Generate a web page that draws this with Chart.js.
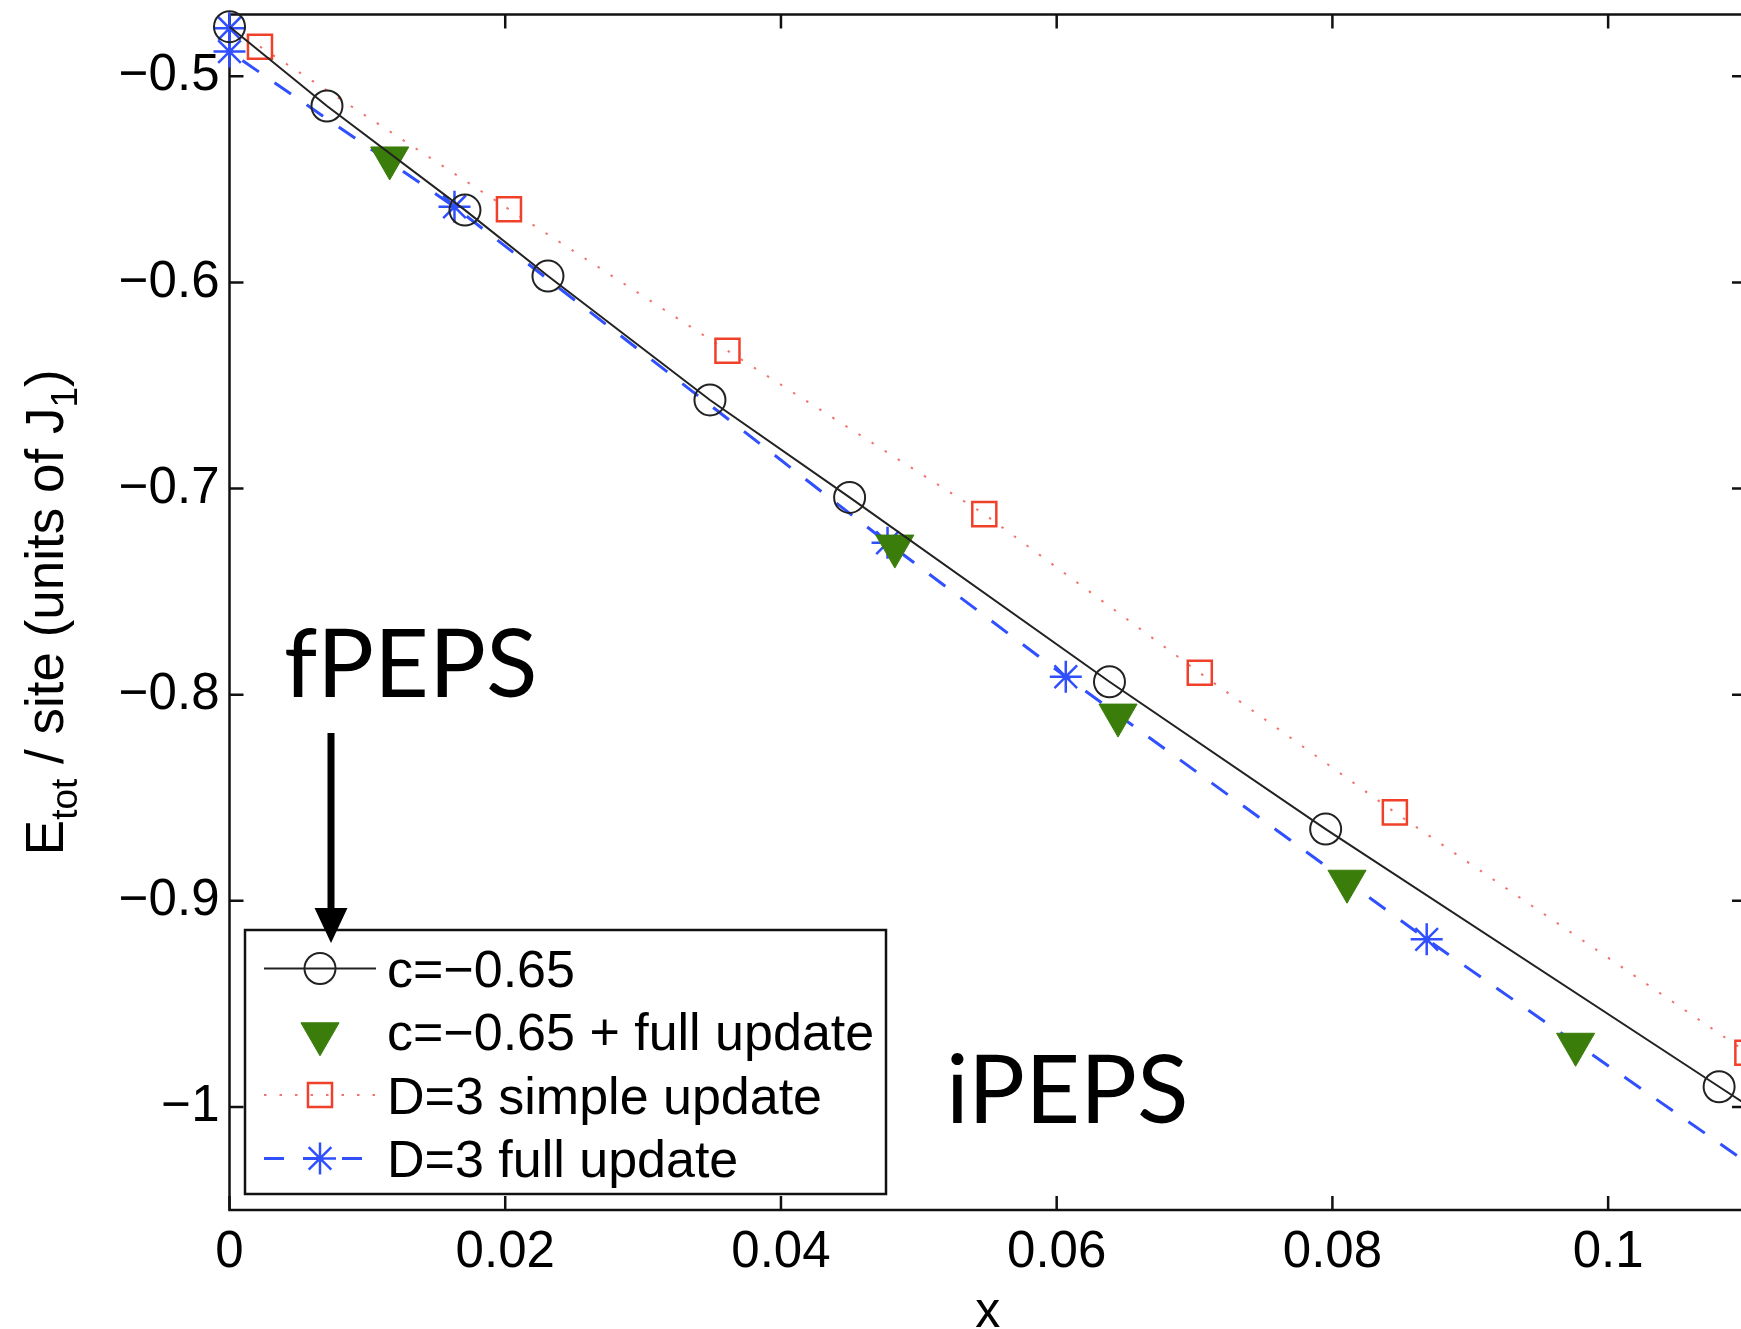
<!DOCTYPE html>
<html lang="en">
<head>
<meta charset="UTF-8">
<title>E_tot per site vs x</title>
<script src="https://cdn.jsdelivr.net/npm/chart.js"></script>
<style>
  html, body { margin: 0; padding: 0; background: #fff; overflow: hidden; }
</style>
</head>
<body>
<canvas id="energyChart" width="1760" height="1329"></canvas>
<script>
// c=-0.65 (last point lies past the right axis, only its line segment shows)
var circX = [0, 0.00707, 0.01708, 0.0231, 0.03485, 0.04498, 0.06383, 0.07951, 0.10805, 0.12];
var circY = [-0.4759, -0.5144, -0.5649, -0.5969, -0.657, -0.7043, -0.7937, -0.8652, -0.9902, -1.0425];

// c=-0.65 + full update
var triX = [0.01162, 0.04826, 0.06445, 0.08106, 0.09764];
var triY = [-0.5396, -0.7279, -0.8099, -0.8905, -0.9696];

// D=3 simple update
var sqX = [0.00221, 0.02027, 0.03612, 0.05475, 0.07038, 0.08453, 0.1101];
var sqY = [-0.4856, -0.5645, -0.6331, -0.7124, -0.7894, -0.8571, -0.9737];

// D=3 full update (last point past the right axis)
var starX = [0, 0, 0.01632, 0.04773, 0.06066, 0.08684, 0.113];
var starY = [-0.4767, -0.488, -0.5633, -0.7263, -0.7913, -0.9187, -1.0406];

var xTicks = [0, 0.02, 0.04, 0.06, 0.08, 0.1];
var yTicks = [-1, -0.9, -0.8, -0.7, -0.6, -0.5];

var seriesNames = ['c=\u22120.65', 'c=\u22120.65 + full update', 'D=3 simple update', 'D=3 full update'];

var LABEL_FONT = '"Liberation Sans", Arial, sans-serif';

function toPoints(xs, ys) {
  return xs.map(function (x, i) { return { x: x, y: ys[i] }; });
}

// frame with inward ticks on all four sides (matlab style)
var framePlugin = {
  id: 'frame',
  beforeDatasetsDraw: function (chart) {
    var ctx = chart.ctx, a = chart.chartArea;
    var xs = chart.scales.x, ys = chart.scales.y;
    var tl = 14;
    ctx.save();
    ctx.strokeStyle = '#111';
    ctx.lineWidth = 2.5;
    ctx.strokeRect(a.left, a.top, a.right - a.left, a.bottom - a.top);
    ctx.beginPath();
    xTicks.forEach(function (v) {
      var p = xs.getPixelForValue(v);
      ctx.moveTo(p, a.bottom); ctx.lineTo(p, a.bottom - tl);
      ctx.moveTo(p, a.top); ctx.lineTo(p, a.top + tl);
    });
    yTicks.forEach(function (v) {
      var p = ys.getPixelForValue(v);
      ctx.moveTo(a.left, p); ctx.lineTo(a.left + tl, p);
      ctx.moveTo(a.right, p); ctx.lineTo(a.right - tl, p);
    });
    ctx.stroke();
    ctx.restore();
  }
};

// y title with subscripts, boxed legend, annotations
var extrasPlugin = {
  id: 'extras',
  afterDraw: function (chart) {
    var ctx = chart.ctx, a = chart.chartArea;
    ctx.save();

    // y axis title
    var parts = [['E', false], ['tot', true], [' / site (units of J', false], ['1', true], [')', false]];
    var big = '53px ' + LABEL_FONT, small = '37px ' + LABEL_FONT;
    var total = 0;
    parts.forEach(function (p) {
      ctx.font = p[1] ? small : big;
      p.push(ctx.measureText(p[0]).width);
      total += p[2];
    });
    ctx.translate(63, (a.top + a.bottom) / 2);
    ctx.rotate(-Math.PI / 2);
    ctx.fillStyle = '#000';
    ctx.textBaseline = 'alphabetic';
    var tx = -total / 2;
    parts.forEach(function (p) {
      ctx.font = p[1] ? small : big;
      ctx.fillText(p[0], tx, p[1] ? 14 : 0);
      tx += p[2];
    });
    ctx.setTransform(1, 0, 0, 1, 0, 0);

    // legend box
    var bx = 245, by = 930, bw = 641, bh = 264;
    ctx.fillStyle = '#fff';
    ctx.fillRect(bx, by, bw, bh);
    ctx.strokeStyle = '#111';
    ctx.lineWidth = 2.5;
    ctx.strokeRect(bx, by, bw, bh);

    chart.data.datasets.forEach(function (ds, i) {
      var cy = 968.5 + i * 63.3;
      if (ds.showLine) {
        ctx.beginPath();
        ctx.setLineDash(ds.borderDash || []);
        ctx.strokeStyle = ds.borderColor;
        ctx.lineWidth = ds.borderWidth;
        ctx.moveTo(264, cy);
        ctx.lineTo(376, cy);
        ctx.stroke();
        ctx.setLineDash([]);
      }
      ctx.fillStyle = ds.pointBackgroundColor;
      ctx.strokeStyle = ds.pointBorderColor;
      ctx.lineWidth = ds.pointBorderWidth;
      Chart.helpers.drawPoint(ctx, {
        pointStyle: ds.pointStyle,
        radius: ds.pointRadius,
        rotation: ds.pointRotation || 0,
        borderWidth: ds.pointBorderWidth
      }, 320, ds.pointStyle === 'triangle' ? cy + 2 : cy);
      ctx.fillStyle = '#000';
      ctx.font = '52px ' + LABEL_FONT;
      ctx.fillText(seriesNames[i], 387, cy + 18.5);
    });

    // fPEPS / iPEPS labels and arrow
    ctx.fillStyle = '#000';
    ctx.font = '95px Lato, "Open Sans", sans-serif';
    ctx.fillText('fPEPS', 284, 697);
    ctx.fillText('iPEPS', 946, 1123);

    ctx.strokeStyle = '#000';
    ctx.lineWidth = 7;
    ctx.beginPath();
    ctx.moveTo(331, 733);
    ctx.lineTo(331, 915);
    ctx.stroke();
    ctx.beginPath();
    ctx.moveTo(314.5, 908);
    ctx.lineTo(347.5, 908);
    ctx.lineTo(331, 943);
    ctx.closePath();
    ctx.fill();

    ctx.restore();
  }
};

new Chart(document.getElementById('energyChart'), {
  type: 'scatter',
  data: {
    datasets: [
      {
        label: seriesNames[0],
        data: toPoints(circX, circY),
        showLine: true,
        borderColor: '#222',
        borderWidth: 2,
        pointStyle: 'circle',
        pointRadius: 15.5,
        pointBorderColor: '#222',
        pointBackgroundColor: 'rgba(0,0,0,0)',
        pointBorderWidth: 2,
        clip: false
      },
      {
        label: seriesNames[1],
        data: toPoints(triX, triY),
        showLine: false,
        pointStyle: 'triangle',
        pointRotation: 180,
        pointRadius: 22,
        pointBorderColor: '#3a7d0a',
        pointBackgroundColor: '#3a7d0a',
        pointBorderWidth: 1,
        clip: false
      },
      {
        label: seriesNames[2],
        data: toPoints(sqX, sqY),
        showLine: true,
        borderColor: 'rgba(240,90,80,0.85)',
        borderDash: [2.5, 13],
        borderWidth: 2,
        pointStyle: 'rect',
        pointRadius: 17,
        pointBorderColor: '#f0402a',
        pointBackgroundColor: 'rgba(0,0,0,0)',
        pointBorderWidth: 2.5,
        clip: false
      },
      {
        label: seriesNames[3],
        data: toPoints(starX, starY),
        showLine: true,
        borderColor: '#3050ff',
        borderDash: [20, 19],
        borderWidth: 3,
        pointStyle: 'star',
        pointRadius: 16,
        pointBorderColor: '#3050ff',
        pointBackgroundColor: 'rgba(0,0,0,0)',
        pointBorderWidth: 2.5,
        clip: false
      }
    ]
  },
  options: {
    responsive: false,
    animation: false,
    events: [],
    layout: { autoPadding: false, padding: { left: 0, right: 14, top: 14.5, bottom: 0 } },
    plugins: {
      legend: { display: false },
      tooltip: { enabled: false }
    },
    scales: {
      x: {
        type: 'linear',
        min: 0,
        max: 0.11,
        afterBuildTicks: function (axis) {
          axis.ticks = xTicks.map(function (v) { return { value: v }; });
        },
        afterFit: function (scale) {
          scale.height = 119;
          scale.paddingLeft = 0;
          scale.paddingRight = 0;
        },
        grid: { display: false, drawTicks: false },
        border: { display: false },
        ticks: {
          padding: 12,
          color: '#000',
          font: { family: LABEL_FONT, size: 51 },
          callback: function (v) { return String(+v.toFixed(2)); }
        },
        title: {
          display: true,
          text: 'x',
          color: '#000',
          padding: { top: 0, bottom: 0 },
          font: { family: LABEL_FONT, size: 50, lineHeight: 0.65 }
        }
      },
      y: {
        type: 'linear',
        min: -1.05,
        max: -0.47,
        afterBuildTicks: function (axis) {
          axis.ticks = yTicks.map(function (v) { return { value: v }; });
        },
        afterFit: function (scale) {
          scale.width = 229.5;
          scale.paddingTop = 0;
          scale.paddingBottom = 0;
        },
        grid: { display: false, drawTicks: false },
        border: { display: false },
        ticks: {
          padding: 10,
          color: '#000',
          font: { family: LABEL_FONT, size: 51 },
          callback: function (v) { return v < 0 ? '\u2212' + Math.abs(v) : String(v); }
        }
      }
    }
  },
  plugins: [framePlugin, extrasPlugin]
});
</script>
</body>
</html>
